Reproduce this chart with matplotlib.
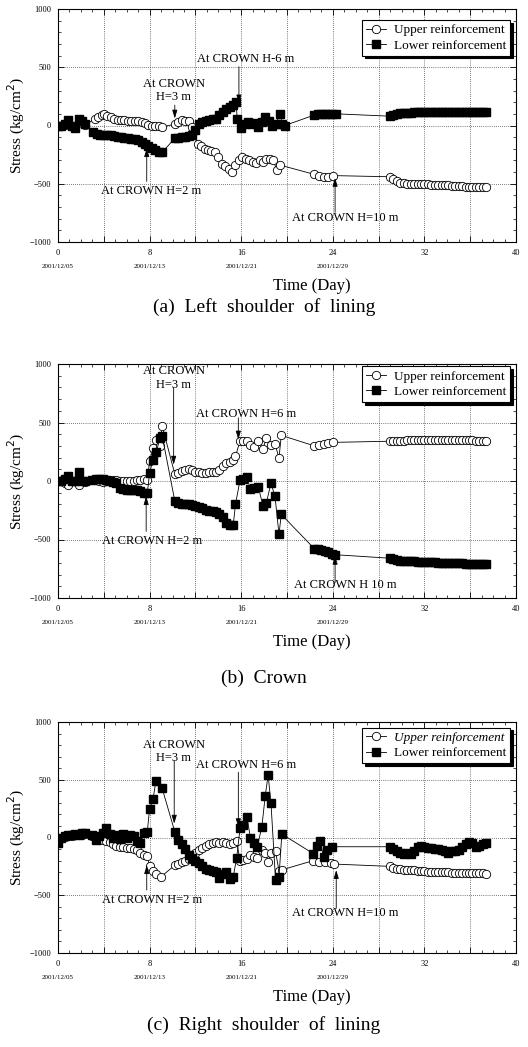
import matplotlib
matplotlib.use("Agg")
import matplotlib.pyplot as plt
from matplotlib.ticker import MultipleLocator, FuncFormatter

plt.rcParams['font.family'] = ['Liberation Serif', 'DejaVu Serif']

# ---- data (day, stress kg/cm2) ----
tail_days = [29.0, 29.3, 29.6, 29.9, 30.2, 30.5, 30.8, 31.1, 31.4, 31.7, 32.0, 32.3, 32.6, 32.9,
             33.2, 33.5, 33.8, 34.1, 34.4, 34.7, 35.0, 35.3, 35.6, 35.9, 36.2, 36.5, 36.8, 37.1, 37.4]

# (a) left shoulder
a_low_days = [0, 0.3, 0.6, 0.9, 1.2, 1.5, 1.8, 2.1, 2.4,
              3.1, 3.4, 3.7, 4.0, 4.3, 4.6, 4.9, 5.2, 5.5, 5.8, 6.1, 6.4, 6.7, 7.0, 7.3, 7.6, 7.9, 8.2,
              8.5, 8.8, 9.1,
              10.2, 10.5, 10.8, 11.1, 11.4, 11.7, 12.0, 12.3, 12.6, 12.9, 13.2, 13.5, 13.8, 14.1, 14.4,
              14.7, 15.0, 15.3, 15.55,
              15.65, 16.0, 16.3, 16.6, 16.9, 17.2, 17.5, 17.8, 18.1, 18.4, 18.7, 19.0, 19.4, 19.6, 19.8,
              22.4, 22.7, 23.0, 23.3, 23.6, 23.9, 24.3] + tail_days
a_low = [0, 0, 10, 50, 0, -20, 55, 40, 10,
         -60, -75, -80, -85, -80, -85, -90, -95, -100, -105, -110, -115, -120, -125, -140, -160, -180,
         -195, -210, -225, -230,
         -110, -105, -100, -95, -90, -85, -40, 10, 30, 40, 50, 55, 60, 90, 120,
         140, 160, 175, 205,
         60, -20, 10, 30, 10, 20, -10, 30, 70, 40, 0, 10, 100, 10, 0,
         90, 95, 100, 100, 100, 95, 100] + \
        [80, 90, 100, 105, 110, 110, 110, 112, 112, 113, 113, 114, 114, 114, 115, 115, 115, 115, 115,
         116, 116, 116, 117, 117, 117, 118, 118, 118, 118]

a_up_days = [0, 0.3, 0.6, 0.9, 1.2, 1.5, 1.8, 2.1, 2.4,
             3.2, 3.5, 3.8, 4.0, 4.3, 4.6, 4.9, 5.2, 5.5, 5.8, 6.1, 6.4, 6.7, 7.0, 7.3, 7.6, 7.9, 8.2,
             8.5, 8.8, 9.1,
             10.2, 10.5, 10.8, 11.1, 11.4, 11.7,
             12.2, 12.5, 12.8, 13.1, 13.4, 13.7, 14.0, 14.3, 14.6, 14.9, 15.2, 15.5, 15.8, 16.1, 16.4,
             16.7, 17.0, 17.3, 17.6, 17.9, 18.2, 18.5, 18.8, 19.1, 19.4,
             22.4, 22.8, 23.2, 23.6, 24.0] + tail_days
a_up = [0, 0, 5, 30, -5, -15, 30, 20, 5,
        55, 75, 90, 95, 80, 70, 60, 50, 45, 45, 40, 40, 35, 35, 30, 20, 5, 0,
        0, 0, -10,
        10, 30, 50, 40, 35, -10,
        -160, -180, -200, -210, -215, -230, -270, -330, -350, -370, -395, -340, -300, -270, -290,
        -300, -310, -320, -300, -310, -290, -290, -300, -380, -340,
        -420, -430, -440, -445, -430] + \
       [-440, -460, -480, -490, -495, -500, -500, -505, -505, -505, -505, -505, -510, -510, -510,
        -515, -515, -515, -520, -520, -520, -520, -525, -525, -525, -525, -530, -530, -530]

# (b) crown
b_low_days = [0, 0.3, 0.6, 0.9, 1.2, 1.5, 1.8, 2.1, 2.4,
              3.0, 3.3, 3.6, 3.9, 4.2, 4.5, 4.8, 5.1, 5.4, 5.7, 6.0, 6.3, 6.6, 6.9, 7.2, 7.5, 7.8,
              8.0, 8.3, 8.6, 8.9, 9.1,
              10.2, 10.5, 10.8, 11.1, 11.4, 11.7, 12.0, 12.3, 12.6, 12.9, 13.2, 13.5, 13.8, 14.1, 14.4,
              14.7, 15.0, 15.3, 15.5,
              15.9, 16.2, 16.5, 16.8, 17.1, 17.5, 17.9, 18.2, 18.6, 18.95, 19.3, 19.5,
              22.4, 22.7, 23.0, 23.3, 23.6, 23.9, 24.2] + tail_days
b_low = [0, 0, 20, 45, 0, 0, 80, 0, 0,
         10, 15, 20, 20, 10, 0, -10, -20, -60, -70, -75, -80, -80, -80, -85, -100, -105,
         70, 180, 250, 370, 385,
         -170, -185, -195, -200, -200, -205, -215, -225, -235, -250, -255, -260, -265, -280, -310,
         -355, -375, -380, -200,
         10, 20, 30, -70, -60, -50, -215, -185, -20, -130, -455, -285,
         -580, -585, -590, -600, -610, -620, -630] + \
        [-660, -670, -675, -680, -680, -685, -685, -688, -690, -690, -692, -694, -695, -696, -697,
         -698, -700, -700, -702, -703, -704, -705, -706, -706, -707, -708, -708, -709, -710]

b_up_days = [0, 0.3, 0.6, 0.9, 1.2, 1.5, 1.8, 2.1, 2.4,
             3.0, 3.3, 3.6, 3.9, 4.2, 4.5, 4.8, 5.1, 5.4, 5.7, 6.0, 6.3, 6.6, 6.9, 7.2, 7.5, 7.8,
             8.0, 8.3, 8.6, 8.9, 9.1,
             10.2, 10.5, 10.8, 11.1, 11.4, 11.7, 12.0, 12.3, 12.6, 12.9, 13.2, 13.5, 13.8, 14.1, 14.4,
             14.7, 15.0, 15.3, 15.5,
             15.9, 16.2, 16.5, 16.8, 17.1, 17.5, 17.9, 18.2, 18.6, 18.95, 19.3, 19.5,
             22.4, 22.8, 23.2, 23.6, 24.0] + tail_days
b_up = [0, 0, -20, -35, 0, 0, -35, 0, -5,
        10, 5, 0, -10, 0, 5, 10, 5, 0, 0, 0, 0, 0, 5, 10, 15, 5,
        170, 280, 350, 300, 470,
        60, 70, 85, 95, 100, 90, 80, 75, 70, 70, 75, 80, 80, 90, 130,
        150, 160, 180, 210,
        345, 340, 345, 310, 290, 345, 275, 370, 310, 320, 195, 390,
        300, 310, 320, 325, 330] + \
       [340, 342, 344, 345, 346, 347, 348, 348, 349, 349, 350, 350, 350, 350, 350,
        350, 350, 350, 350, 350, 349, 349, 348, 348, 347, 346, 346, 345, 345]

# (c) right shoulder
c_low_days = [0, 0.3, 0.6, 0.9, 1.2, 1.5, 1.8, 2.1, 2.4,
              3.0, 3.3, 3.6, 3.9, 4.2, 4.5, 4.8, 5.1, 5.4, 5.7, 6.0, 6.3, 6.6, 6.9, 7.2, 7.5, 7.8,
              8.0, 8.3, 8.55, 9.1,
              10.2, 10.5, 10.8, 11.1, 11.4, 11.7, 12.0, 12.3, 12.6, 12.9, 13.2, 13.5, 13.8, 14.1, 14.4,
              14.7, 15.0, 15.3, 15.6,
              15.9, 16.2, 16.5, 16.8, 17.1, 17.4, 17.8, 18.1, 18.35, 18.6, 19.0, 19.3, 19.55,
              22.3, 22.6, 22.9, 23.2, 23.5, 23.9] + tail_days
c_low = [-50, 0, 10, 20, 25, 30, 20, 35, 40,
         20, -20, 10, 40, 80, 30, 0, 20, -10, 30, 0, 20, 10, -30, -50, 40, 50,
         250, 330, 490, 425,
         50, -20, -60, -100, -150, -180, -200, -220, -250, -270, -280, -290, -300, -350, -320,
         -300, -360, -340, -180,
         80, 110, 180, 0, -50, -80, 90, 360, 540, 300, -370, -340, 30,
         -140, -70, -30, -170, -110, -80] + \
        [-80, -100, -120, -130, -140, -130, -140, -120, -80, -70, -80, -90, -90, -100, -100,
         -110, -120, -130, -120, -120, -110, -80, -60, -40, -50, -80, -70, -55, -50]

c_up_days = [0, 0.3, 0.6, 0.9, 1.2, 1.5, 1.8, 2.1, 2.4,
             3.0, 3.3, 3.6, 3.9, 4.2, 4.5, 4.8, 5.1, 5.4, 5.7, 6.0, 6.3, 6.6, 6.9, 7.2, 7.5, 7.8,
             8.0, 8.3, 8.6, 9.0,
             10.2, 10.5, 10.8, 11.1, 11.4, 11.7, 12.0, 12.3, 12.6, 12.9, 13.2, 13.5, 13.8, 14.1, 14.4,
             14.7, 15.0, 15.3, 15.6,
             15.9, 16.2, 16.5, 16.8, 17.1, 17.4, 17.8, 18.1, 18.35, 18.6, 19.0, 19.3, 19.55,
             22.3, 22.8, 23.3, 23.8, 24.1] + tail_days
c_up = [0, 0, 5, 10, 15, 20, 20, 25, 30,
        10, -10, -20, -20, -30, -40, -60, -70, -80, -85, -90, -95, -100, -110, -130, -150, -160,
        -250, -290, -320, -340,
        -240, -230, -210, -200, -190, -160, -130, -110, -90, -70, -60, -50, -40, -50, -40,
        -50, -60, -50, -30,
        -200, -195, -190, -150, -170, -180, -110, -130, -210, -130, -120, -290, -280,
        -200, -210, -215, -225, -230] + \
       [-250, -260, -270, -275, -280, -280, -285, -285, -290, -290, -290, -295, -295, -295, -300,
        -300, -300, -300, -305, -305, -305, -305, -310, -310, -310, -310, -310, -310, -315]

date_ticks = [0, 8, 16, 24]
date_labels = ['2001/12/05', '2001/12/13', '2001/12/21', '2001/12/29']
captions = ['(a)  Left  shoulder  of  lining', '(b)  Crown', '(c)  Right  shoulder  of  lining']

# ---- figure ----
fig = plt.figure(figsize=(5.28, 10.47), dpi=100)
W, H = 528.0, 1047.0


def px_axes(left, top, right, bottom):
    return fig.add_axes([left / W, 1 - bottom / H, (right - left) / W, (bottom - top) / H])


ax_a = px_axes(58, 9, 516, 242)
ax_b = px_axes(58, 364, 516, 598)
ax_c = px_axes(58, 722, 516, 953)

panels = [
    (ax_a, a_up_days, a_up, a_low_days, a_low),
    (ax_b, b_up_days, b_up, b_low_days, b_low),
    (ax_c, c_up_days, c_up, c_low_days, c_low),
]

# annotation layout per panel: (text, text_xy, arrow_start, arrow_tip)
notes = [
    [("At CROWN\nH=3 m", (10.1, 300), (10.2, 175), (10.2, 60)),
     ("At CROWN H-6 m", (16.4, 575), (15.8, 505), (15.8, 190)),
     ("At CROWN H=2 m", (8.1, -560), (7.75, -480), (7.75, -195)),
     ("At CROWN H=10 m", (25.1, -790), (24.2, -745), (24.2, -450))],
    [("At CROWN\nH=3 m", (10.1, 880), (10.1, 800), (10.1, 140)),
     ("At CROWN H=6 m", (16.4, 570), (15.75, 540), (15.75, 355)),
     ("At CROWN H=2 m", (8.2, -515), (7.7, -430), (7.7, -130)),
     ("At CROWN H 10 m", (25.1, -885), (24.2, -870), (24.2, -640))],
    [("At CROWN\nH=3 m", (10.1, 745), (10.15, 665), (10.15, 120)),
     ("At CROWN H=6 m", (16.4, 632), (15.75, 565), (15.75, 90)),
     ("At CROWN H=2 m", (8.2, -540), (7.75, -455), (7.75, -240)),
     ("At CROWN H=10 m", (25.1, -655), (24.3, -612), (24.3, -282))],
]
legend_tops = [0.953, 0.99, 0.976]

for i, (ax, ud, uv, ld, lv) in enumerate(panels):
    ax.plot(ud, uv, color='black', lw=0.6, marker='o', ms=6, mfc='white', mec='black', mew=0.6,
            label='Upper reinforcement', zorder=3)
    ax.plot(ld, lv, color='black', lw=0.6, marker='s', ms=5.2, mfc='black', mec='black',
            label='Lower reinforcement', zorder=4)

    ax.set_xlim(0, 40)
    ax.set_ylim(-1000, 1000)
    ax.xaxis.set_major_locator(MultipleLocator(4))
    ax.xaxis.set_minor_locator(MultipleLocator(1))
    ax.yaxis.set_major_locator(MultipleLocator(500))
    ax.yaxis.set_minor_locator(MultipleLocator(100))
    ax.xaxis.set_major_formatter(FuncFormatter(lambda v, p: '%d' % v if v % 8 == 0 else ''))
    ax.tick_params(which='both', direction='in', top=True, right=True, labelsize=6, pad=5)
    ax.tick_params(which='major', length=4, width=0.6)
    ax.tick_params(which='minor', length=2, width=0.5)
    ax.grid(True, which='major', color='black', ls=(0, (1, 2)), lw=0.5)
    for s in ax.spines.values():
        s.set_linewidth(0.8)

    ax.set_ylabel('Stress (kg/cm$^2$)', fontsize=11, labelpad=2)
    ax.set_xlabel('Time (Day)', fontsize=12)
    ax.xaxis.set_label_coords(0.555, -0.155)

    for d, lab in zip(date_ticks, date_labels):
        ax.annotate(lab, xy=(d, 0), xycoords=('data', 'axes fraction'), xytext=(0, -16),
                    textcoords='offset points', ha='center', va='top', fontsize=5)

    for txt, txy, start, tip in notes[i]:
        ax.text(txy[0], txy[1], txt, fontsize=9, ha='center', va='center', zorder=6)
        ax.annotate('', xy=tip, xytext=start,
                    arrowprops=dict(arrowstyle='-|>,head_length=0.5,head_width=0.15',
                                    color='black', lw=0.6, shrinkA=0, shrinkB=0), zorder=6)

    leg = ax.legend(loc='upper right', bbox_to_anchor=(0.987, legend_tops[i]),
                    borderaxespad=0, fontsize=9.5, frameon=True, fancybox=False,
                    shadow={'color': 'black', 'alpha': 1},
                    edgecolor='black', framealpha=1, handlelength=1.5, handletextpad=0.6,
                    borderpad=0.3, labelspacing=0.25)
    leg.get_frame().set_linewidth(0.8)
    if i == 2:
        leg.get_texts()[0].set_fontstyle('italic')

    fig.text(264 / W, 1 - [307, 678, 1025][i] / H, captions[i], fontsize=14, ha='center', va='center')

fig.savefig('out.png', dpi=100)
